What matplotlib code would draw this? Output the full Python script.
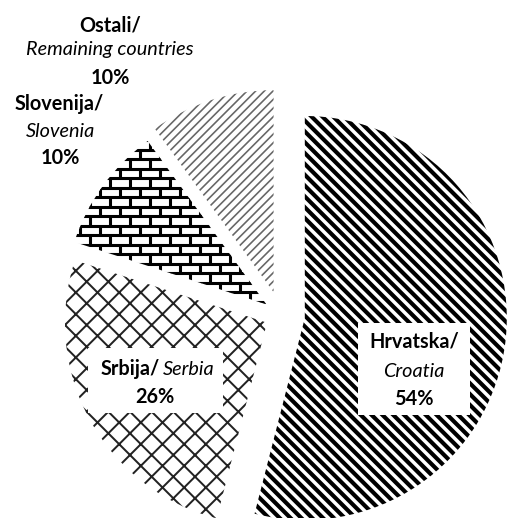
import matplotlib.pyplot as plt
from matplotlib.collections import LineCollection
from matplotlib.patches import Rectangle
import numpy as np

plt.rcParams['font.family'] = ['Lato', 'DejaVu Sans']

countries = ['Hrvatska/', 'Srbija/', 'Slovenija/', 'Ostali/']
countries_en = ['Croatia', 'Serbia', 'Slovenia', 'Remaining countries']
shares = [54, 26, 10, 10]

W, H = 507, 518
DPI = 130


def Y(py):
    # pixel row (from top) -> data y
    return H - py


fig = plt.figure(figsize=(W / DPI, H / DPI), dpi=DPI)
ax = fig.add_axes([0, 0, 1, 1])

wedges, _ = ax.pie(
    shares,
    explode=[24, 16, 18, 24],
    startangle=90,
    counterclock=False,
    center=(281, Y(315)),
    radius=202,
    wedgeprops=dict(linewidth=0),
    frame=True,
)
ax.set_xlim(0, W)
ax.set_ylim(0, H)
ax.set_aspect('equal')
ax.axis('off')

styles = [
    ('black', '\\\\\\\\', 2.3),   # Hrvatska
    ('#222222', 'xx', 1.1),       # Srbija
    ('black', '', 1.0),          # Slovenija (bricks drawn below)
    ('#666666', '/////', 0.9),    # Ostali
]
for w, (col, hatch, hlw) in zip(wedges, styles):
    w.set_facecolor('white')
    w.set_edgecolor(col)
    w.set_hatch(hatch)
    if hasattr(w, 'set_hatch_linewidth'):
        w.set_hatch_linewidth(hlw)

# brick pattern for Slovenija
slo = wedges[2]
x0, x1, y0, y1 = 40, 300, Y(330), Y(110)
row_h, brick_w = 9.5, 20
segs = []
k = 0
yy = y0
while yy < y1:
    segs.append([(x0, yy), (x1, yy)])
    off = (brick_w / 2) * (k % 2)
    xx = x0 + off
    while xx < x1:
        segs.append([(xx, yy), (xx, yy + row_h)])
        xx += brick_w
    yy += row_h
    k += 1
bricks = LineCollection(segs, colors='black', linewidths=1.7, zorder=2)
bricks.set_clip_path(slo)
ax.add_collection(bricks)

# white boxes behind inner labels
ax.add_patch(Rectangle((358, Y(415)), 112, 92, facecolor='white', edgecolor='none', zorder=3))
ax.add_patch(Rectangle((88, Y(413)), 135, 65, facecolor='white', edgecolor='none', zorder=3))

fs = 11
kw = dict(ha='center', va='baseline', fontsize=fs, zorder=4, color='black')

# Hrvatska
ax.text(414, Y(348), countries[0], fontweight='bold', **kw)
ax.text(414, Y(377), countries_en[0], fontstyle='italic', **kw)
ax.text(414, Y(405), f'{shares[0]}%', fontweight='bold', **kw)

# Srbija
ax.text(160, Y(375), countries[1], ha='right', va='baseline', fontsize=fs,
        fontweight='bold', zorder=4)
ax.text(163, Y(375), countries_en[1], ha='left', va='baseline', fontsize=fs,
        fontstyle='italic', zorder=4)
ax.text(155, Y(403), f'{shares[1]}%', fontweight='bold', **kw)

# Slovenija
ax.text(59, Y(110), countries[2], fontweight='bold', **kw)
ax.text(60, Y(137), countries_en[2], fontstyle='italic', **kw)
ax.text(60, Y(164), f'{shares[2]}%', fontweight='bold', **kw)

# Ostali
ax.text(110, Y(31), countries[3], fontweight='bold', **kw)
ax.text(110, Y(55), countries_en[3], fontstyle='italic', **kw)
ax.text(110, Y(84), f'{shares[3]}%', fontweight='bold', **kw)

fig.savefig('out.png', dpi=DPI)
